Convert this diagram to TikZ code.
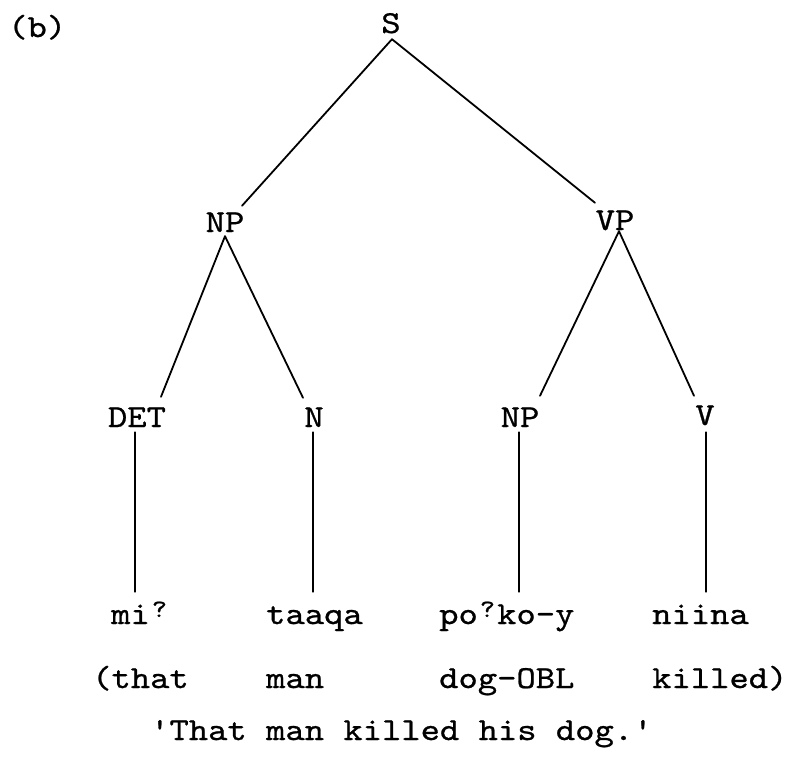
\documentclass[tikz,border=0pt]{standalone}
\usepackage{fontspec}
\newfontfamily\tw{lmmono10-regular.otf}[FakeStretch=1.15,FakeBold=0.8]
\usetikzlibrary{calc}
\newcommand\gs{\makebox[19.3pt][c]{\raisebox{7pt}{\fontsize{25}{25}\selectfont ?}}}
\begin{document}
\begin{tikzpicture}[x=1pt,y=-1pt,
  lab/.style={font={\tw\fontsize{32}{36}\selectfont}, anchor=base, inner xsep=0pt, inner ysep=5pt, text height=19pt, text depth=0pt},
  word/.style={font={\tw\fontsize{32}{36}\selectfont}, anchor=base west, inner sep=0pt, text height=19pt, text depth=6pt},
  edge/.style={line width=1.8pt, line cap=round}]
\useasboundingbox (0,0) rectangle (796,756);
% labels
\node[word] (b) at (8,37) {(b)};
\node[lab] (S) at (391,33) {S};
\node[lab] (NP) at (225,232) {NP};
\node[lab] (VP) at (615,230) {VP};
\node[lab] (DET) at (137,427) {DET};
\node[lab] (N) at (314,427) {N};
\node[lab] (NP2) at (520,427) {NP};
\node[lab] (V) at (705,425) {V};
% words
\node[word] (w1) at (111,624) {mi\gs};
\node[word] (w2) at (266,624) {taaqa};
\node[word] (w3) at (439,624) {po\gs ko-y};
\node[word] (w4) at (652,624) {niina};
\node[word] (g1) at (92,688) {(that};
\node[word] (g2) at (266,688) {man};
\node[word] (g3) at (439,688) {dog-OBL};
\node[word] (g4) at (652,688) {killed)};
\node[word] (tr) at (150,740) {'That man killed his dog.'};
% edges
\draw[edge] ($(S.south)+(1,1)$) -- ($(NP.north)+(17,-2)$);
\draw[edge] ($(S.south)+(1,1)$) -- ($(VP.north)+(-20,-3)$);
\draw[edge] ($(NP.south)+(0,-1)$) -- ($(DET.north)+(24,-6)$);
\draw[edge] ($(NP.south)+(0,-1)$) -- ($(N.north)+(-11,-5)$);
\draw[edge] ($(VP.south)+(4,-4)$) -- ($(NP2.north)+(20,-7)$);
\draw[edge] ($(VP.south)+(4,-4)$) -- ($(V.north)+(-11,-5)$);
\draw[edge] ($(DET.south)+(-2,0)$) -- ($(DET.south |- w1.north)+(-2,-13)$);
\draw[edge] ($(N.south)+(-1,0)$) -- ($(N.south |- w2.north)+(-1,-13)$);
\draw[edge] ($(NP2.south)+(-1,0)$) -- ($(NP2.south |- w3.north)+(-1,-13)$);
\draw[edge] ($(V.south)+(1,2)$) -- ($(V.south |- w4.north)+(1,-13)$);
\end{tikzpicture}
\end{document}
